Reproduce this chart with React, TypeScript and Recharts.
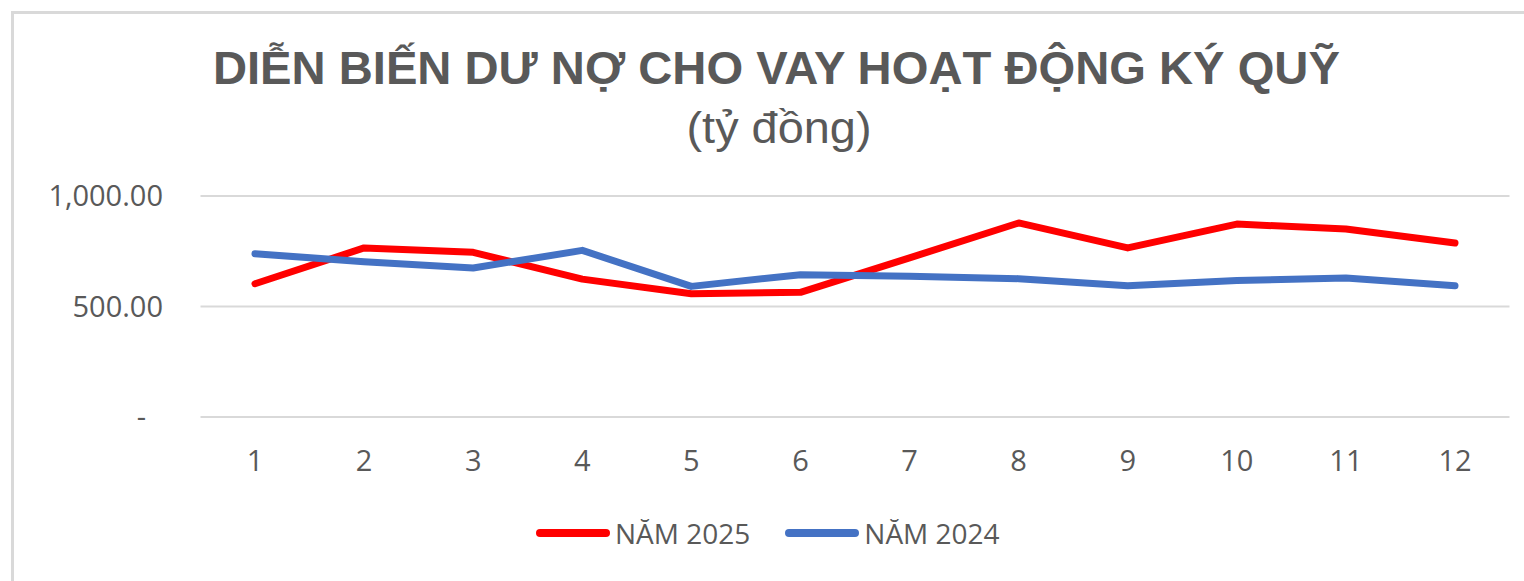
import { CartesianGrid, Line, LineChart, XAxis, YAxis } from "recharts";

// Excel-style margin lending chart: 2025 vs 2024 by month (tỷ đồng)
const MONTHS = ["1", "2", "3", "4", "5", "6", "7", "8", "9", "10", "11", "12"];
const NAM_2025 = [603, 765, 745, 624, 558, 564, 720, 878, 765, 873, 851, 787];
const NAM_2024 = [739, 703, 674, 754, 591, 644, 637, 626, 594, 618, 629, 594];
const Y_TICKS = [0, 500, 1000];

const TITLE = "DIỄN BIẾN DƯ NỢ CHO VAY HOẠT ĐỘNG KÝ QUỸ";
const SUBTITLE = "(tỷ đồng)";

const SERIES = [
  { key: "nam2025", name: "NĂM 2025", color: "#FF0000", values: NAM_2025 },
  { key: "nam2024", name: "NĂM 2024", color: "#4472C4", values: NAM_2024 },
];

const TEXT = "#595959";
const GRID = "#d9d9d9";
const FONT = "'Open Sans', 'Noto Sans', sans-serif";

const chartData = MONTHS.map((m, i) => {
  const row: Record<string, string | number> = { month: m };
  SERIES.forEach((s) => (row[s.key] = s.values[i]));
  return row;
});

// accounting format: 0 shows as a dash set in from the right edge
function formatTick(v: number) {
  if (v === 0) return "-";
  return v.toLocaleString("en-US", { minimumFractionDigits: 2, maximumFractionDigits: 2 });
}

function YTick({ x, y, payload }: any) {
  const v = Number(payload.value);
  return (
    <text
      x={x - (v === 0 ? 17 : 0)}
      y={y}
      dy="0.355em"
      textAnchor="end"
      fill={TEXT}
      fontSize={29}
      fontFamily={FONT}
    >
      {formatTick(v)}
    </text>
  );
}

export default function App() {
  return (
    <div
      style={{
        position: "absolute",
        left: 0,
        top: 0,
        width: 1524,
        height: 581,
        overflow: "hidden",
        background: "#fff",
      }}
    >
      {/* chart frame, only top/left edges are in view */}
      <div
        style={{
          position: "absolute",
          left: 11,
          top: 11,
          width: 1560,
          height: 620,
          borderLeft: `3px solid ${GRID}`,
          borderTop: `3px solid ${GRID}`,
        }}
      />
      <LineChart
        width={1524}
        height={581}
        data={chartData}
        margin={{ top: 196, right: 14.5, left: 0, bottom: 104 }}
        style={{ position: "absolute", left: 0, top: 0 }}
      >
        <CartesianGrid vertical={false} stroke={GRID} strokeWidth={2} />
        <XAxis
          dataKey="month"
          height={60}
          axisLine={false}
          tickLine={false}
          tickSize={0}
          tickMargin={33}
          padding={{ left: 54.5, right: 54.5 }}
          tick={{ fill: TEXT, fontSize: 29, fontFamily: FONT }}
          interval={0}
        />
        <YAxis
          width={200.5}
          domain={[0, 1000]}
          ticks={Y_TICKS}
          axisLine={false}
          tickLine={false}
          tickSize={0}
          tickMargin={37.5}
          tick={<YTick />}
        />
        {SERIES.map((s) => (
          <Line
            key={s.key}
            dataKey={s.key}
            name={s.name}
            type="linear"
            stroke={s.color}
            strokeWidth={7}
            strokeLinecap="round"
            strokeLinejoin="round"
            dot={false}
            activeDot={false}
            isAnimationActive={false}
          />
        ))}
      </LineChart>
      <svg
        width={1524}
        height={581}
        style={{ position: "absolute", left: 0, top: 0, pointerEvents: "none" }}
      >
        <text
          x={776.4}
          y={84}
          textAnchor="middle"
          fill={TEXT}
          fontSize={47}
          fontWeight="bold"
          fontFamily="'Liberation Sans', Arial, sans-serif"
          textLength={1127}
          lengthAdjust="spacingAndGlyphs"
        >
          {TITLE}
        </text>
        <text
          x={779}
          y={143}
          textAnchor="middle"
          fill={TEXT}
          fontSize={45}
          fontFamily="'Liberation Sans', Arial, sans-serif"
          textLength={185}
          lengthAdjust="spacingAndGlyphs"
        >
          {SUBTITLE}
        </text>
      </svg>
      <div
        style={{
          position: "absolute",
          left: 536,
          top: 513,
          display: "flex",
          alignItems: "center",
          fontFamily: FONT,
          fontSize: 28,
          color: TEXT,
          whiteSpace: "nowrap",
        }}
      >
        {SERIES.map((s, i) => (
          <div
            key={s.key}
            style={{ display: "flex", alignItems: "center", marginRight: i === 0 ? 35 : 0 }}
          >
            <span
              style={{
                display: "inline-block",
                width: 74,
                height: 8,
                borderRadius: 4,
                background: s.color,
                marginRight: 5,
              }}
            />
            <span style={{ lineHeight: "40px" }}>{s.name}</span>
          </div>
        ))}
      </div>
    </div>
  );
}
